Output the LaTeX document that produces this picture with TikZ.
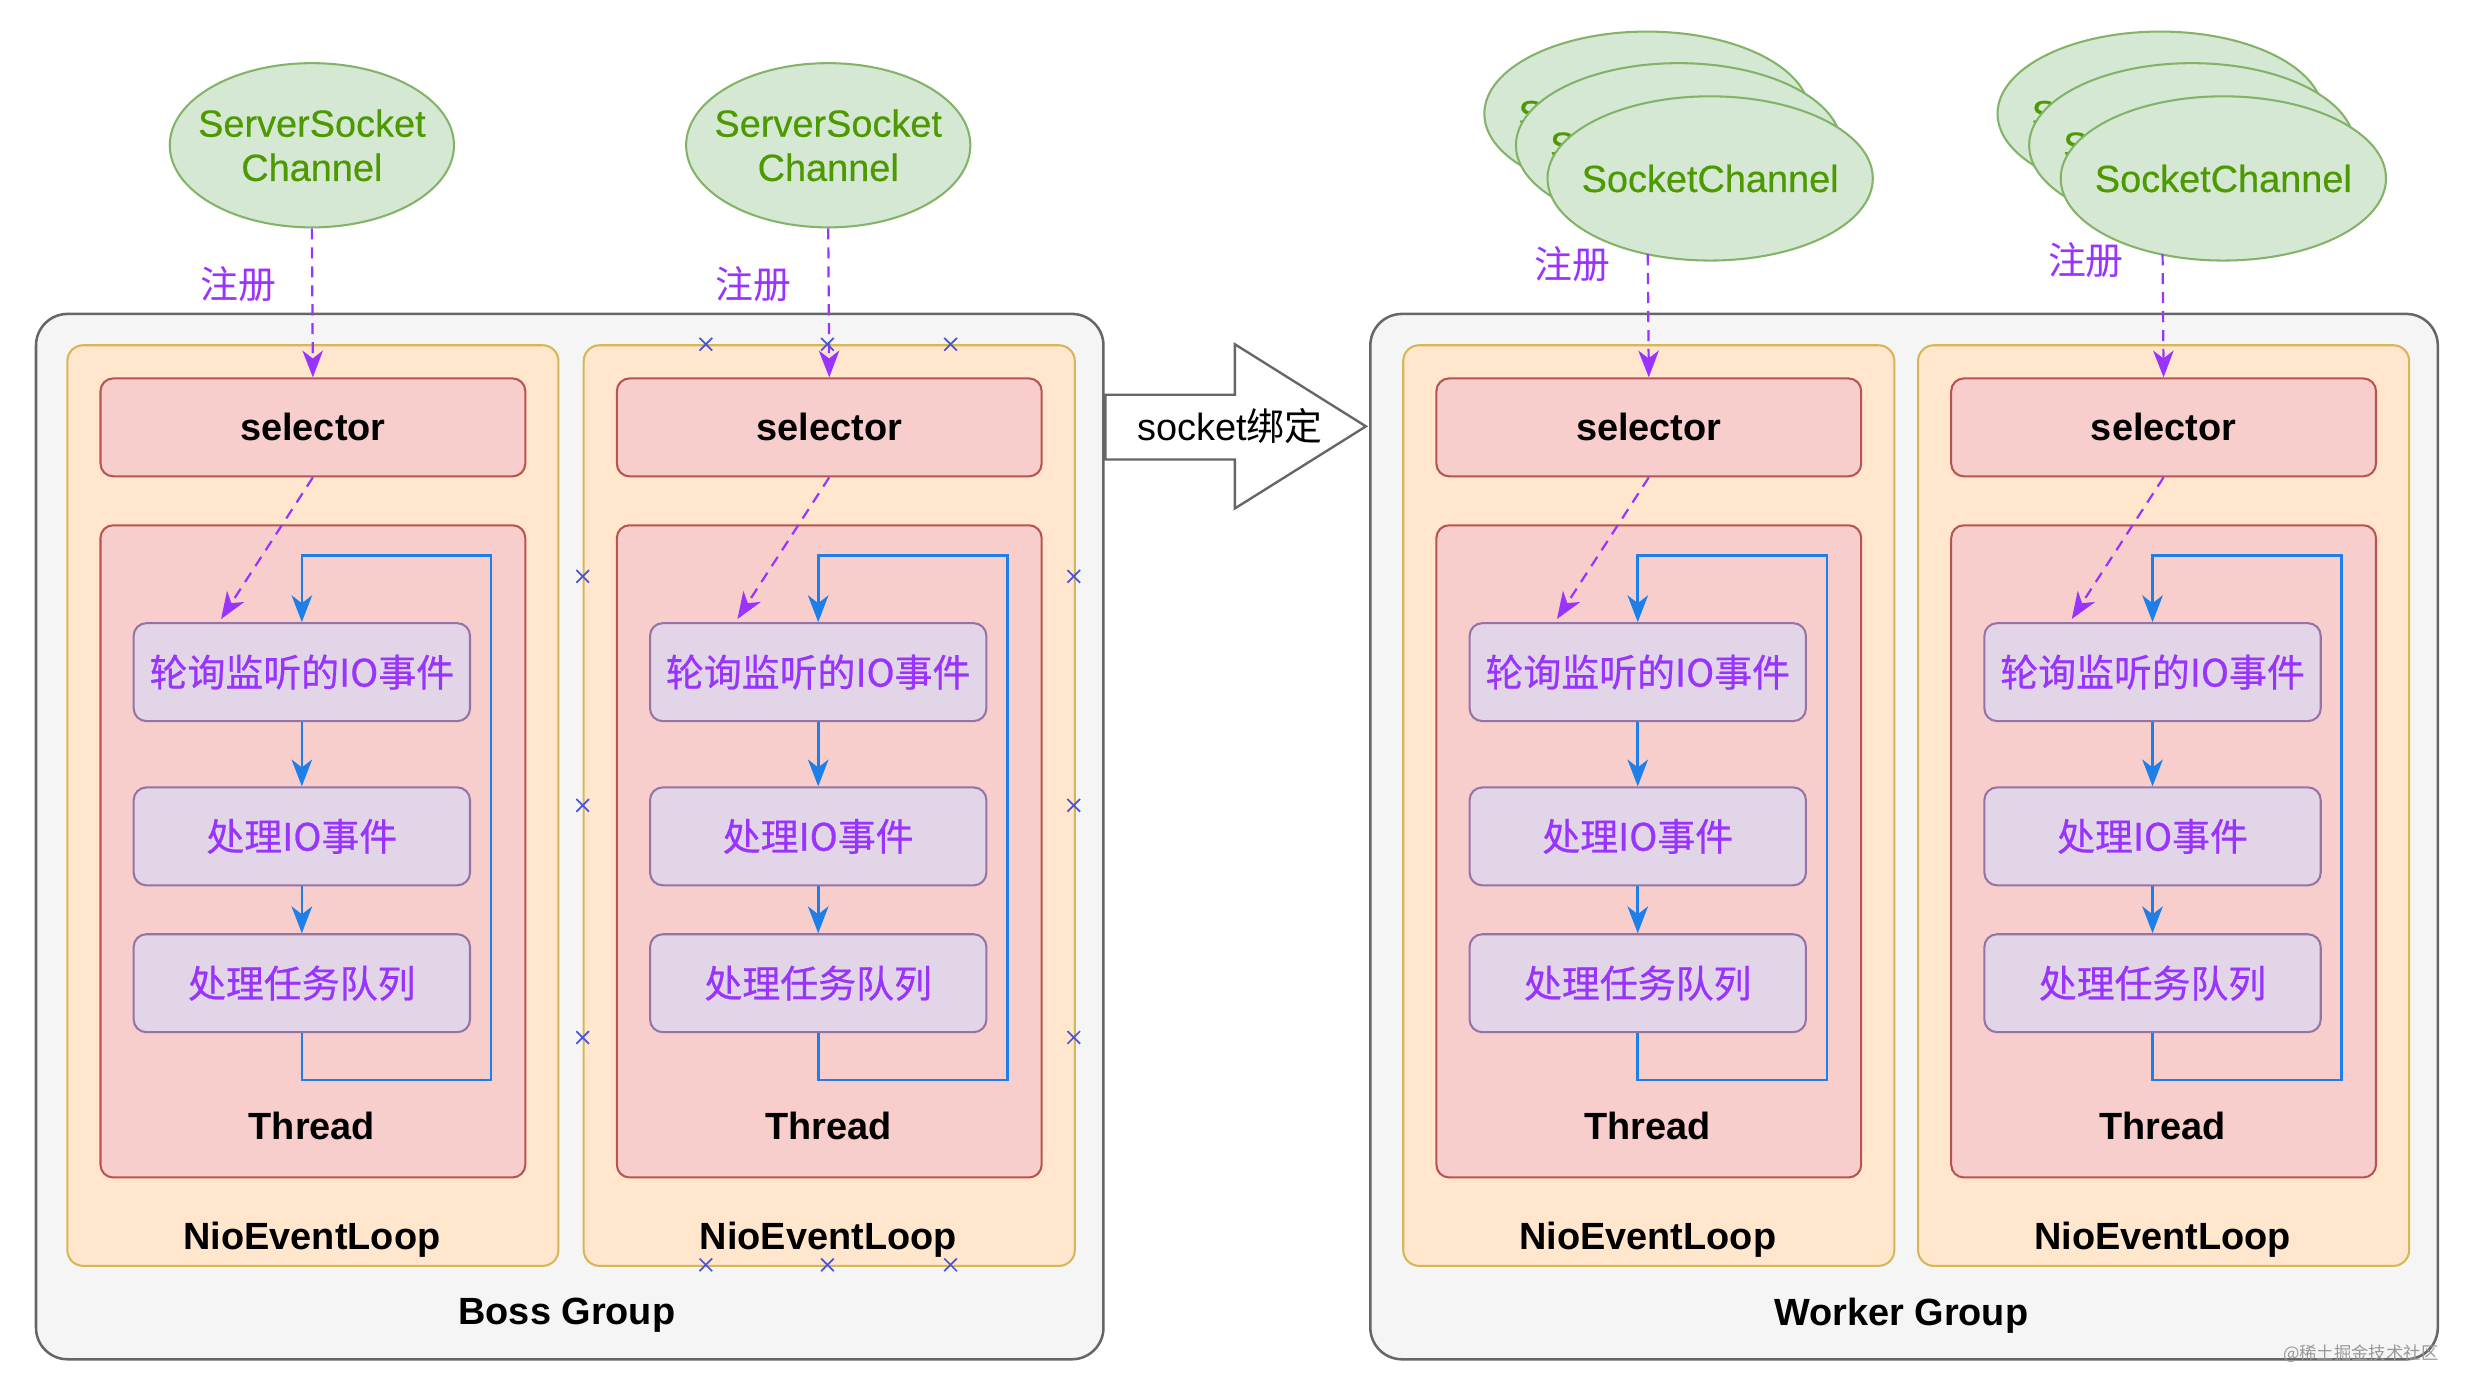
\documentclass[tikz,border=0pt]{standalone}
\usepackage{fontspec}
\setmainfont{Liberation Sans}
\newfontfamily\cjk{Noto Sans CJK SC}
\newfontfamily\cjkm[FakeBold=0.6]{Noto Sans CJK SC}
\newfontfamily\grnfont[FakeBold=0.4]{Liberation Sans}
\usetikzlibrary{arrows.meta,calc,shapes.geometric}
\definecolor{grpfill}{HTML}{F5F5F5}
\definecolor{grpdraw}{HTML}{666666}
\definecolor{nelfill}{HTML}{FFE6CC}
\definecolor{neldraw}{HTML}{D6B656}
\definecolor{redfill}{HTML}{F8CECC}
\definecolor{reddraw}{HTML}{B85450}
\definecolor{purfill}{HTML}{E1D5E7}
\definecolor{purdraw}{HTML}{9673A6}
\definecolor{purtxt}{HTML}{9933FF}
\definecolor{grnfill}{HTML}{D5E8D4}
\definecolor{grndraw}{HTML}{82B366}
\definecolor{grntxt}{HTML}{4D9900}
\definecolor{loopblue}{HTML}{1F7FE8}
\definecolor{handle}{HTML}{4A55D8}
\tikzset{
  fs/.style={font=\fontsize{24}{28}\selectfont},
  grp/.style={draw=grpdraw, fill=grpfill, line width=1.6pt, rounded corners=20pt,
    minimum width=676pt, minimum height=662pt, anchor=north west, inner sep=0pt},
  nel/.style={draw=neldraw, fill=nelfill, line width=1.3pt, rounded corners=10pt,
    minimum width=311pt, minimum height=583pt, anchor=north west, inner sep=0pt},
  redbox/.style={draw=reddraw, fill=redfill, line width=1.3pt, rounded corners=8pt,
    minimum width=269pt, anchor=north west, inner sep=0pt},
  selbox/.style={redbox, minimum height=62pt, font=\bfseries\fontsize{24}{28}\selectfont},
  thbox/.style={redbox, minimum height=413pt},
  stepbox/.style={draw=purdraw, fill=purfill, line width=1.3pt, rounded corners=8pt,
    minimum width=213pt, minimum height=62pt, anchor=north west, inner sep=0pt,
    text=purtxt, font=\cjkm\fontsize{24}{28}\selectfont},
  chan/.style={ellipse, draw=grndraw, fill=grnfill, line width=1.3pt, inner sep=0pt,
    minimum height=104pt},
  chantxt/.style={text=grntxt, align=center, inner sep=0pt,
    font=\grnfont\fontsize{24}{28}\selectfont},
  blbl/.style={font=\bfseries\fontsize{24}{28}\selectfont},
  reglbl/.style={text=purtxt, font=\cjk\fontsize{24}{28}\selectfont},
  regar/.style={draw=purtxt, line width=1.4pt, dash pattern=on 7pt off 5pt,
    -{Stealth[length=17pt,width=13pt,inset=5pt]}},
  looparr/.style={draw=loopblue, line width=1.7pt,
    -{Stealth[length=17pt,width=13pt,inset=5pt]}},
  hmark/.style={draw=handle, line width=1.1pt},
}
\begin{document}
\begin{tikzpicture}[x=1pt,y=-1pt]
\useasboundingbox (0,0) rectangle (1568,885);
\fill[white] (0,0) rectangle (1568,885);
% groups
\node[grp] (boss) at (22,198) {};
\node[grp] (worker) at (867,198) {};
\node[blbl] (bossl) at (359,833) {Boss Group};
\node[blbl] (workerl) at (1204,833) {Worker Group};
% block arrow
\draw[draw=grpdraw, fill=white, line width=1.5pt]
  (700,250) -- (782,250) -- (782,218) -- (865,270) -- (782,322) -- (782,291) -- (700,291) -- cycle;
\node[fs] (bind) at (779,270) {socket{\cjk 绑定}};
% event loops
\foreach \i/\x in {1/42, 2/369, 3/888, 4/1214} {
  \node[nel] (nel\i) at (\x,218) {};
  \node[selbox] (sel\i) at (\x+21,239) {selector};
  \node[thbox] (th\i) at (\x+21,332) {};
  \node[stepbox] (a\i) at (\x+42,394) {轮询监听的IO事件};
  \node[stepbox] (b\i) at (\x+42,498) {处理IO事件};
  \node[stepbox] (c\i) at (\x+42,591) {处理任务队列};
  \node[blbl] (thl\i) at (\x+155.5,713) {Thread};
  \node[blbl] (nell\i) at (\x+155.5,785) {NioEventLoop};
  \coordinate (lb\i) at (\x+269,684);
  \coordinate (lt\i) at (\x+269,352);
  \coordinate (pd\i) at (\x+98,392);
  \draw[looparr] (a\i.south) -- (b\i.north);
  \draw[looparr] (b\i.south) -- (c\i.north);
  \draw[looparr] (c\i.south) |- (lb\i) -- (lt\i) -| (a\i.north);
  \draw[regar] (sel\i.south) -- (pd\i);
}
% boss channels
\node[chan, minimum width=180pt] (ss1) at (197.5,92) {};
\node[chantxt] (ss1t) at (ss1.center) {ServerSocket\\Channel};
\node[chan, minimum width=180pt] (ss2) at (524.5,92) {};
\node[chantxt] (ss2t) at (ss2.center) {ServerSocket\\Channel};
\draw[regar] (ss1.south) -- (sel1.north);
\draw[regar] (ss2.south) -- (sel2.north);
\node[reglbl] (r1) at (151,180) {注册};
\node[reglbl] (r2) at (477,180) {注册};
% worker channels (back to front)
\foreach \n/\cx/\cy in {1c/1043/72, 1b/1063/92, 1a/1083/113, 2c/1368/72, 2b/1388/92, 2a/1408/113} {
  \node[chan, minimum width=206pt] (sc\n) at (\cx,\cy) {};
  \node[chantxt] (sc\n t) at (sc\n.center) {SocketChannel};
}
\coordinate (w1s) at (1043.5,161);
\coordinate (w2s) at (1369.5,161);
\draw[regar] (w1s) -- (sel3.north);
\draw[regar] (w2s) -- (sel4.north);
\node[reglbl] (r3) at (996,167) {注册};
\node[reglbl] (r4) at (1321,165) {注册};
% selection handles
\foreach \hx/\hy in {447/218, 524/218, 602/218, 369/365, 369/510, 369/657,
                     680/365, 680/510, 680/657, 447/801, 524/801, 602/801} {
  \draw[hmark] (\hx-4,\hy-4) -- (\hx+4,\hy+4) (\hx-4,\hy+4) -- (\hx+4,\hy-4);
}
% watermark
\node[text=black!40, font=\cjk\fontsize{11}{12}\selectfont] (wm) at (1495,857) {@稀土掘金技术社区};
\end{tikzpicture}
\end{document}
